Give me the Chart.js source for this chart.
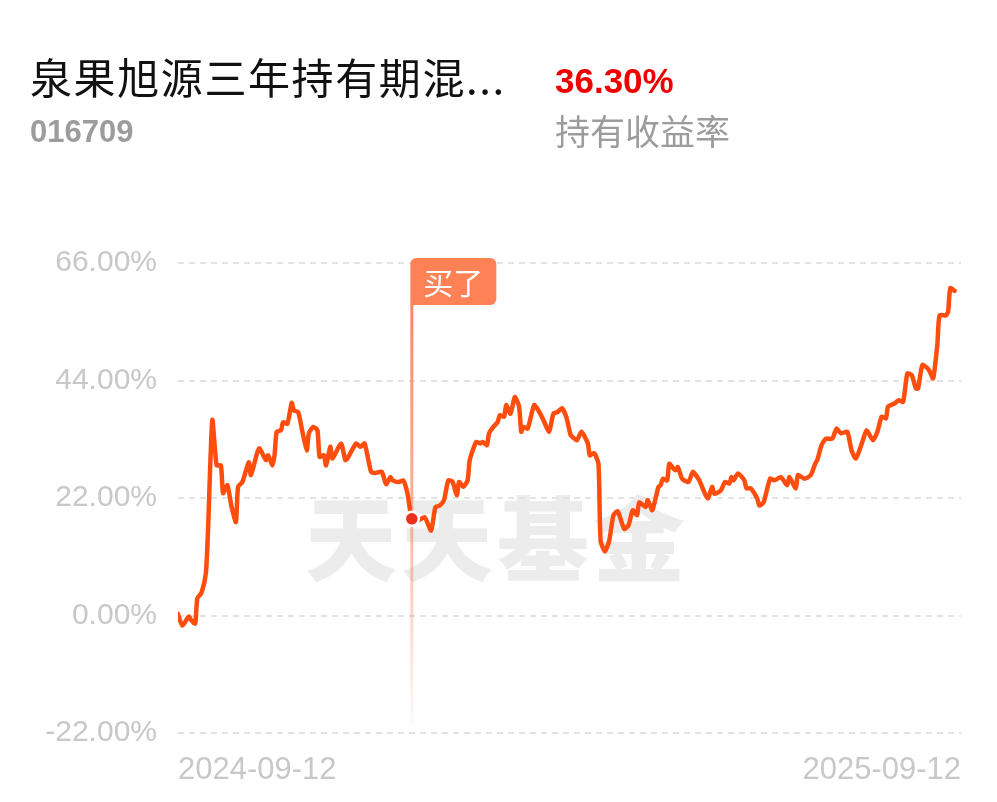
<!DOCTYPE html>
<html lang="zh-CN">
<head>
<meta charset="UTF-8">
<title>泉果旭源三年持有期混合</title>
<script src="https://cdn.jsdelivr.net/npm/chart.js@4"></script>
<style>
  html, body { margin: 0; padding: 0; background: #fff; }
  #wrap { position: relative; width: 997px; height: 802px; }
</style>
</head>
<body>
<div id="wrap"><canvas id="myChart" width="997" height="802"></canvas></div>
<script>
// header texts
const fundName = '泉果旭源三年持有期混...';
const fundCode = '016709';
const holdReturn = '36.30%';
const holdLabel = '持有收益率';
const watermark = '天天基金';
const buyText = '买了';

// axes
const dateLabels = ['2024-09-12', '2025-09-12'];
const dateSpan = [0, 365];          // days from 2024-09-12
const yTicks = [-22, 0, 22, 44, 66];

// series: day offset from 2024-09-12 and cumulative return (%)
const days = [
  0, 2, 5, 6, 8, 9, 11, 13, 14, 16, 18, 20, 21, 23, 25, 27, 28, 30, 33, 34,
  37, 38, 41, 42, 44, 45, 46, 48, 49, 51, 53, 54, 56, 58, 60, 61, 63, 65, 66, 68,
  69, 71, 72, 76, 78, 79, 83, 85, 87, 90, 92, 95, 97, 99, 100, 103, 105, 107, 109, 112,
  115, 118, 120, 122, 124, 126, 128, 130, 131, 133, 135, 136, 139, 141, 142, 144, 145, 147, 149, 150,
  152, 153, 155, 157, 159, 160, 161, 163, 166, 168, 170, 173, 175, 177, 179, 181, 183, 184, 186, 188,
  191, 192, 194, 196, 197, 199, 201, 203, 205, 208, 210, 212, 214, 215, 218, 219, 221, 222, 224, 225,
  226, 228, 229, 231, 232, 233, 235, 238, 240, 243, 245, 247, 249, 250, 253, 255, 257, 258, 259, 261,
  264, 265, 267, 270, 271, 273, 276, 278, 281, 284, 285, 288, 289, 292, 295, 297, 298, 300, 302, 305,
  307, 309, 312, 314, 316, 319, 321, 324, 326, 328, 330, 331, 334, 336, 338, 340, 342, 344, 345, 347,
  350, 352, 354, 355, 358, 359, 360, 362
];
const returns = [
  0.3, -1.9, -0.2, -0.8, -1.5, 3.2, 4.3, 7.9, 16.0, 36.6, 28.1, 28.1, 22.9, 24.4, 20.3, 17.5, 24.1, 25.0, 28.7, 26.3,
  30.6, 31.3, 29.1, 30.0, 28.1, 30.0, 34.4, 34.7, 36.2, 35.9, 39.8, 38.4, 38.1, 34.4, 30.9, 34.1, 35.3, 34.7, 29.7, 30.0,
  28.1, 31.6, 29.4, 32.2, 29.1, 29.4, 32.2, 31.6, 32.2, 26.9, 26.7, 26.9, 24.6, 25.9, 25.3, 25.0, 25.3, 22.8, 18.1, 17.8,
  18.4, 15.9, 20.3, 20.6, 21.6, 25.3, 25.0, 22.5, 25.0, 24.1, 25.3, 29.1, 32.5, 32.2, 32.5, 31.9, 34.1, 35.3, 36.2, 37.5,
  37.2, 39.4, 37.8, 40.9, 39.1, 34.4, 35.3, 35.0, 39.4, 38.4, 36.9, 34.4, 37.8, 38.1, 38.8, 37.2, 33.8, 33.4, 32.8, 34.4,
  32.3, 30.0, 30.4, 28.4, 14.0, 12.0, 14.0, 18.8, 19.5, 16.2, 16.9, 19.7, 18.8, 21.2, 20.3, 21.6, 19.7, 20.9, 24.1, 24.4,
  25.6, 25.3, 28.4, 27.5, 27.2, 27.8, 25.6, 25.0, 26.9, 25.3, 23.4, 21.9, 24.1, 22.8, 23.4, 25.0, 24.7, 25.9, 25.3, 26.6,
  25.3, 23.8, 23.8, 21.9, 20.6, 21.2, 25.6, 25.3, 25.9, 24.4, 25.9, 23.8, 26.3, 25.6, 26.3, 28.4, 29.1, 31.9, 33.1, 33.1,
  35.0, 34.1, 34.4, 30.9, 29.4, 32.5, 34.7, 32.8, 34.4, 37.2, 36.9, 39.1, 39.7, 40.3, 40.0, 45.3, 45.0, 42.5, 42.5, 46.9,
  46.0, 44.4, 50.9, 56.2, 56.2, 56.9, 61.3, 60.8
];
const buyDay = 109;

const points = days.map((d, i) => ({ x: d, y: returns[i] }));
const buyPoint = { x: buyDay, y: returns[days.indexOf(buyDay)] };

const tickFont = { family: '"Liberation Sans", Arial, sans-serif', size: 30 };
const tickColor = '#c8c8c8';

// header, watermark, buy flag
const decor = {
  id: 'decor',
  beforeDraw(chart) {
    const { ctx } = chart;
    ctx.save();
    ctx.textBaseline = 'alphabetic';
    ctx.textAlign = 'left';

    ctx.fillStyle = '#111';
    ctx.font = '42px "Noto Sans CJK SC"';
    ctx.letterSpacing = '1.6px';
    ctx.fillText(fundName, 30, 94);

    ctx.letterSpacing = '0px';
    ctx.fillStyle = '#9c9c9c';
    ctx.font = 'bold 31px "Liberation Sans", Arial, sans-serif';
    ctx.fillText(fundCode, 30, 142);

    ctx.fillStyle = '#ee0000';
    ctx.font = 'bold 35px "Liberation Sans", Arial, sans-serif';
    ctx.fillText(holdReturn, 555, 93);

    ctx.fillStyle = '#9c9c9c';
    ctx.font = '35px "Noto Sans CJK SC"';
    ctx.fillText(holdLabel, 555, 145);

    ctx.fillStyle = 'rgba(0,0,0,0.075)';
    ctx.font = '900 92px "Noto Sans CJK SC"';
    ctx.letterSpacing = '4px';
    ctx.fillText(watermark, 305, 574);
    ctx.restore();
  },
  beforeDatasetsDraw(chart) {
    const { ctx, chartArea, scales } = chart;
    const x = scales.x.getPixelForValue(buyPoint.x);
    const yMark = scales.y.getPixelForValue(buyPoint.y);
    const flagTop = chartArea.top - 5;
    const flagBottom = flagTop + 47;
    const lineEnd = chartArea.bottom - 8;

    ctx.save();
    const grad = ctx.createLinearGradient(0, flagBottom, 0, lineEnd);
    grad.addColorStop(0, 'rgba(255,120,80,0.9)');
    grad.addColorStop((yMark - flagBottom) / (lineEnd - flagBottom), 'rgba(255,120,80,0.55)');
    grad.addColorStop(1, 'rgba(255,120,80,0.03)');
    ctx.fillStyle = grad;
    ctx.fillRect(x - 1.5, flagBottom, 3, lineEnd - flagBottom);

    ctx.fillStyle = '#ff8256';
    ctx.beginPath();
    ctx.roundRect(x - 1.5, flagTop, 86, 47, [6, 6, 6, 0]);
    ctx.fill();

    ctx.fillStyle = '#fff';
    ctx.font = '30px "Noto Sans CJK SC"';
    ctx.textAlign = 'center';
    ctx.textBaseline = 'middle';
    ctx.fillText(buyText, x - 1.5 + 43, flagTop + 25);
    ctx.restore();
  }
};

new Chart(document.getElementById('myChart'), {
  type: 'line',
  data: {
    datasets: [
      {
        data: [buyPoint],
        showLine: false,
        pointRadius: 7,
        pointBackgroundColor: '#e8321e',
        pointBorderColor: '#fff',
        pointBorderWidth: 2.5,
        order: 0
      },
      {
        data: points,
        borderColor: '#ff4d0d',
        borderWidth: 4.5,
        borderJoinStyle: 'round',
        borderCapStyle: 'round',
        pointRadius: 0,
        tension: 0.2,
        fill: false,
        order: 1
      }
    ]
  },
  options: {
    responsive: false,
    animation: false,
    devicePixelRatio: 1,
    layout: { padding: { top: 263, right: 36, bottom: 0, left: 0 } },
    plugins: { legend: { display: false }, tooltip: { enabled: false } },
    scales: {
      x: {
        type: 'linear',
        min: dateSpan[0],
        max: dateSpan[1],
        afterBuildTicks: (s) => { s.ticks = dateSpan.map(v => ({ value: v })); },
        afterFit: (s) => { s.height = 69; },
        grid: { display: false, drawTicks: false },
        border: { display: false },
        ticks: {
          align: 'inner',
          maxRotation: 0,
          padding: 19,
          color: tickColor,
          font: { family: tickFont.family, size: 31 },
          callback: (v, i) => dateLabels[i]
        }
      },
      y: {
        min: yTicks[0],
        max: yTicks[yTicks.length - 1],
        afterBuildTicks: (s) => { s.ticks = yTicks.map(v => ({ value: v })); },
        afterFit: (s) => { s.width = 178; },
        grid: { color: '#e3e3e3', lineWidth: 2, drawTicks: false },
        border: { display: false, dash: [6, 5] },
        ticks: {
          padding: 21,
          color: tickColor,
          font: tickFont,
          callback: (v) => v.toFixed(2) + '%'
        }
      }
    }
  },
  plugins: [decor]
});
</script>
</body>
</html>
